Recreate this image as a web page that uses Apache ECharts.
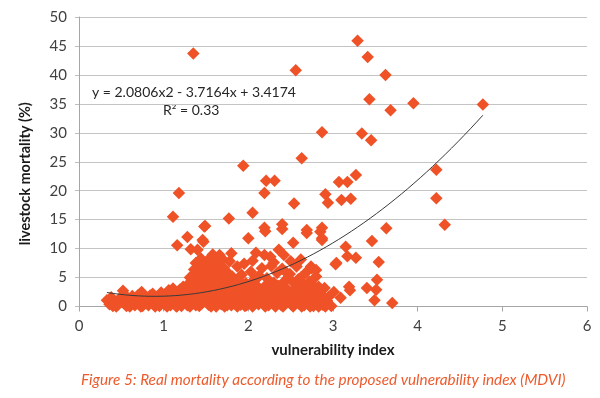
<!DOCTYPE html>
<html>
<head>
<meta charset="utf-8">
<script src="https://cdn.jsdelivr.net/npm/echarts@6/dist/echarts.min.js"></script>
<style>html,body{margin:0;padding:0;background:#fff}#c{width:600px;height:398px}</style>
</head>
<body>
<div id="c"></div>
<script>
// ---- data ----
const xTicks = [0, 1, 2, 3, 4, 5, 6];
const yTicks = [0, 5, 10, 15, 20, 25, 30, 35, 40, 45, 50];

const clusterLow = [
  [0.33,1.1],[0.36,0.4],[0.40,0.1],[0.42,0.9],[0.46,0.3],[0.48,1.4],[0.52,2.7],[0.53,0.6],[0.56,0.1],[0.58,1.2],
  [0.61,0.4],[0.63,1.8],[0.66,0.2],[0.68,1.0],[0.71,0.5],[0.74,2.5],[0.75,0.1],[0.78,1.5],[0.80,0.6],[0.82,0.2],
  [0.85,1.1],[0.87,2.2],[0.89,0.3],[0.91,1.7],[0.93,0.8],[0.95,0.1],[0.97,2.4],[0.99,1.3],
  [1.01,0.4],[1.03,2.0],[1.05,0.9],[1.06,2.8],[1.08,0.2],[1.10,1.5],[1.11,3.1],[1.13,0.7],[1.14,2.3],[1.16,0.1],
  [1.17,1.2],[1.19,2.9],[1.20,0.5],[1.22,1.8],[1.23,3.4],[1.25,0.9],[1.26,2.4],[1.28,0.2],[1.29,3.9],[1.30,1.4]
];
const clusterLowFill = [
  [0.38,1.6],[0.44,0.0],[0.50,0.9],[0.55,1.9],[0.60,0.0],[0.65,1.3],[0.70,2.0],[0.73,0.0],[0.77,0.9],[0.84,1.9],
  [0.90,0.0],[0.96,0.9],[1.00,1.7],[1.04,0.0],[1.09,2.6],[1.12,1.0],[1.15,0.0],[1.18,2.0],[1.21,0.1],[1.24,1.3],
  [1.27,2.9]
];
const clusterMid = [
  [1.31,5.0],[1.32,2.8],[1.33,0.6],[1.34,4.2],[1.35,1.9],[1.36,6.4],[1.37,3.3],[1.38,0.2],[1.39,5.6],[1.40,2.4],
  [1.41,7.3],[1.42,1.1],[1.43,4.6],[1.44,3.0],[1.45,0.5],[1.46,6.0],[1.47,2.0],[1.48,4.0],[1.49,7.0],[1.50,1.4],
  [1.51,5.2],[1.52,3.5],[1.53,0.3],[1.54,6.6],[1.55,2.6],[1.56,4.4],[1.57,1.0],[1.58,7.4],[1.59,3.1],[1.60,5.5],
  [1.61,0.7],[1.62,2.2],[1.63,6.2],[1.64,4.0],[1.65,1.6],[1.66,7.0],[1.67,3.6],[1.68,0.4],[1.69,5.0],[1.70,2.7],
  [1.71,6.7],[1.72,1.3],[1.73,4.5],[1.74,3.2],[1.75,0.2],[1.76,5.8],[1.77,2.0],[1.78,7.8],[1.79,3.9],[1.80,1.1],
  [1.81,5.2],[1.83,2.5],[1.84,0.5],[1.86,4.3],[1.88,1.6],[1.89,3.0],[1.91,0.3],[1.92,5.5],[1.94,2.2],[1.95,1.0],
  [1.97,4.0],[1.98,0.2],[2.00,3.1],[2.01,1.7],[2.03,6.0],[2.04,0.6],[2.06,2.7],[2.07,4.6],[2.09,1.2],[2.10,3.6],
  [2.12,0.4],[2.13,5.3],[2.15,2.0],[2.16,6.6],[2.18,0.9],[2.19,3.4],[2.21,1.5],[2.22,4.9],[2.24,0.2],[2.25,2.9],
  [2.27,7.0],[2.28,1.3],[2.30,4.1]
];
const clusterMidFill = [
  [1.31,0.0],[1.33,3.0],[1.35,5.5],[1.37,1.2],[1.39,3.8],[1.42,0.1],[1.44,2.0],[1.46,4.8],[1.48,0.9],[1.50,3.0],
  [1.52,6.0],[1.54,1.8],[1.56,0.0],[1.58,4.3],[1.60,2.4],[1.62,0.0],[1.64,5.8],[1.66,2.9],[1.68,1.4],[1.70,4.0],
  [1.72,0.0],[1.74,5.5],[1.76,1.0],[1.78,3.0],[1.80,0.2],[1.82,3.8],[1.85,1.2],[1.87,0.0],[1.90,2.1],[1.93,3.9],
  [1.96,0.1],[1.99,1.4],[2.02,3.9],[2.05,0.0],[2.08,2.0],[2.11,5.0],[2.14,0.9],[2.17,2.6],[2.20,0.0],[2.23,3.3],
  [2.26,1.0],[2.29,2.5],[1.44,8.3],[1.52,8.0],[1.58,9.0],[1.70,8.1],[1.62,7.6],[1.95,7.4],[2.05,7.9],[2.30,7.6]
];
const clusterHigh = [
  [2.31,0.5],[2.33,2.4],[2.34,5.8],[2.36,1.0],[2.37,3.5],[2.39,0.2],[2.40,6.5],[2.42,2.0],[2.43,4.4],[2.45,0.8],
  [2.46,3.0],[2.48,1.5],[2.49,5.6],[2.51,0.3],[2.52,2.6],[2.54,4.0],[2.55,1.1],[2.57,6.9],[2.58,3.3],[2.60,0.5],
  [2.61,2.1],[2.62,5.0],[2.64,1.4],[2.65,3.8],[2.66,0.2],[2.68,2.7],[2.69,6.0],[2.71,1.0],[2.72,4.3],[2.74,0.4],
  [2.75,2.2],[2.77,3.6],[2.78,1.3],[2.80,5.2],[2.82,0.7],[2.84,2.6],[2.86,1.6],[2.88,0.3],[2.90,3.2],[2.93,1.0]
];
const clusterHighFill = [
  [2.32,0.0],[2.35,3.6],[2.38,1.7],[2.41,0.0],[2.44,2.6],[2.47,5.0],[2.50,1.1],[2.53,0.0],[2.56,2.0],[2.59,4.7],
  [2.63,0.0],[2.67,1.6],[2.70,3.4],[2.73,0.0],[2.76,1.0],[2.79,2.9],[2.83,0.0],[2.87,2.0],[2.91,0.0],[2.95,1.7],
  [2.98,0.1],[2.50,7.8],[2.62,8.1]
];
const scatterMidRange = [
  [1.38,7.5],[1.66,8.9],[1.80,9.2],[1.87,6.9],[2.09,9.3],[2.19,8.9],[2.36,9.8],[2.42,8.9],[2.53,11.0],[2.00,11.8],
  [2.20,13.0],[2.40,13.4],[2.40,14.2],[2.19,13.6],[1.49,13.9],[1.28,12.0],[1.16,10.6],[1.32,9.9],[1.47,11.2],[1.40,9.8],
  [1.11,15.5],[1.77,15.2],[2.05,16.2],[2.54,17.8],[2.69,12.7],[2.85,12.9],[2.87,11.8],[3.04,7.5],[2.74,6.9],[2.80,6.3],
  [1.48,13.8],[1.46,11.5],[2.44,6.0],[2.75,6.6],[2.26,8.6]
];
const scatterRight = [
  [3.63,13.5],[3.46,11.3],[3.15,10.3],[3.17,8.7],[3.27,8.4],[3.03,7.3],[3.54,7.7],[3.52,4.6],[3.19,3.4],[3.20,2.8],
  [3.40,3.2],[3.51,2.9],[3.49,1.1],[3.70,0.6],[3.01,2.5],[3.09,1.5],[2.83,3.4],[2.81,0.6],[2.77,0.1],[2.87,11.5],
  [2.69,13.2],[2.87,13.6]
];
const scatterUpper = [
  [1.35,43.7],[2.56,40.8],[3.29,45.9],[3.41,43.1],[3.62,40.0],[3.43,35.8],[3.68,33.9],[3.95,35.1],[4.77,34.9],
  [2.87,30.1],[3.34,29.9],[3.45,28.7],[2.63,25.6],[3.07,21.5],[3.17,21.5],[3.27,22.7],[2.91,19.4],[2.94,17.9],
  [3.10,18.4],[3.21,18.6],[4.22,23.6],[4.22,18.7],[4.32,14.1],[1.18,19.6],[1.94,24.3],[2.21,21.7],[2.31,21.7],[2.19,19.6]
];
// trendline coefficients as printed on the chart: y = a x^2 + b x + c
const trendCoef = [2.0806, -3.7164, 3.4174];
const trendRange = [0.33, 4.77];

const allPoints = [].concat(clusterLow, clusterLowFill, clusterMid, clusterMidFill, clusterHigh, clusterHighFill,
  scatterMidRange, scatterRight, scatterUpper);
const trendData = [];
for (let i = 0; i <= 60; i++) {
  const x = trendRange[0] + (trendRange[1] - trendRange[0]) * i / 60;
  trendData.push([x, trendCoef[0] * x * x + trendCoef[1] * x + trendCoef[2]]);
}

const FONT = 'Lato';
const chart = echarts.init(document.getElementById('c'), null, {renderer: 'canvas'});
chart.setOption({
  animation: false,
  backgroundColor: '#fff',
  grid: {left: 79, right: 13, top: 17, bottom: 91.5, containLabel: false},
  xAxis: {
    type: 'value', min: xTicks[0], max: xTicks[xTicks.length - 1], interval: 1,
    name: 'vulnerability index', nameLocation: 'middle', nameGap: 36,
    nameTextStyle: {fontFamily: FONT, fontWeight: 'bold', fontSize: 15, color: '#1a1a1a'},
    axisLine: {show: true, lineStyle: {color: '#A6A6A6', width: 1}},
    axisTick: {show: true, length: 5, lineStyle: {color: '#A6A6A6'}},
    axisLabel: {fontFamily: FONT, fontSize: 15, color: '#404040', margin: 12},
    splitLine: {show: false}
  },
  yAxis: {
    type: 'value', min: yTicks[0], max: yTicks[yTicks.length - 1], interval: 5,
    name: 'livestock mortality (%)', nameLocation: 'middle', nameGap: 46, nameRotate: 90,
    nameTextStyle: {fontFamily: FONT, fontWeight: 'bold', fontSize: 14.5, color: '#1a1a1a', padding: [0, 24, 0, 0]},
    axisLine: {show: true, lineStyle: {color: '#A6A6A6', width: 1}},
    axisTick: {show: true, length: 4, lineStyle: {color: '#BFBFBF'}},
    axisLabel: {fontFamily: FONT, fontSize: 15, color: '#404040', margin: 12},
    splitLine: {show: true, lineStyle: {color: '#C4C4C4', width: 1}}
  },
  series: [
    {
      type: 'scatter', data: allPoints, symbol: 'diamond', symbolSize: 12.5,
      itemStyle: {color: '#F05228', opacity: 1}, emphasis: {disabled: true}, z: 2
    },
    {
      type: 'line', data: trendData, showSymbol: false, smooth: false,
      lineStyle: {color: '#3a3a3a', width: 1}, z: 3
    }
  ],
  graphic: [
    {type: 'text', left: 92, top: 85, style: {text: 'y = 2.0806x2 - 3.7164x + 3.4174', font: '14px ' + FONT, fill: '#262626'}},
    {type: 'text', left: 163, top: 103, style: {text: 'R² = 0.33', font: '14px ' + FONT, fill: '#262626'}},
    {type: 'text', left: 81, top: 373, style: {text: 'Figure 5: Real mortality according to the proposed vulnerability index (MDVI)', font: 'italic 15.3px ' + FONT, fill: '#EE5A2C'}}
  ]
});
</script>
</body>
</html>
